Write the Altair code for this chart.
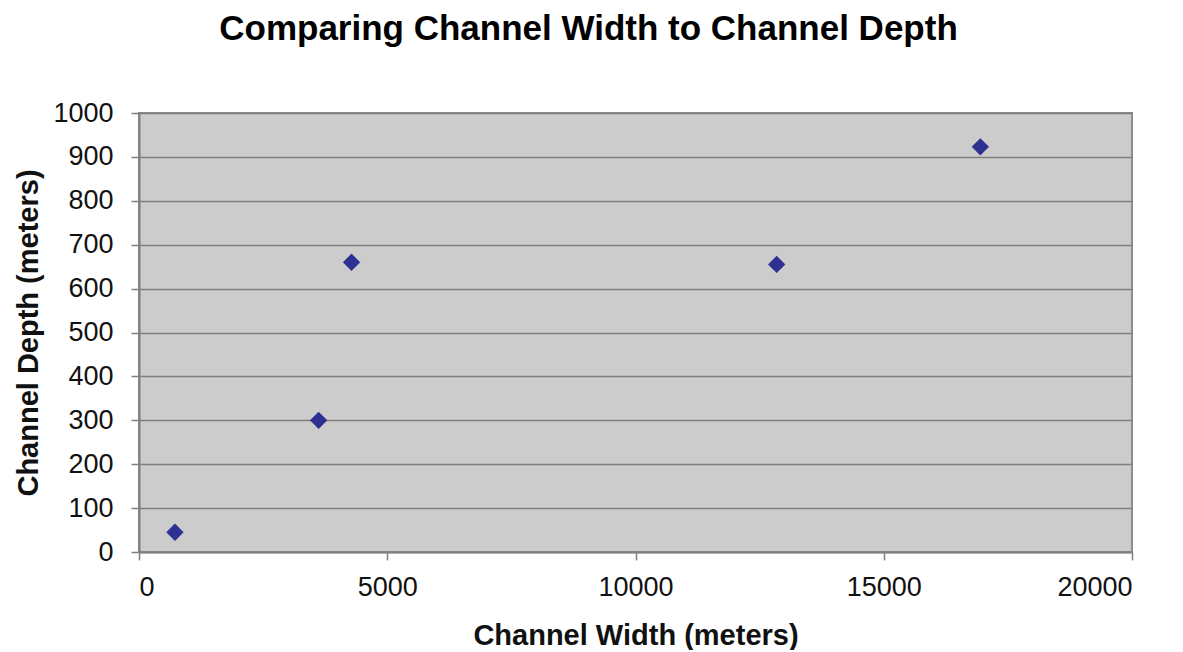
import altair as alt
import pandas as pd

width_m = [724, 3618, 4281, 12844, 16945]
depth_m = [45, 300, 660, 655, 923]

df = pd.DataFrame({"width": width_m, "depth": depth_m})

FONT = "Liberation Sans"

chart = alt.Chart(df).mark_point(
    shape="diamond", filled=True, size=300, color="#2e3192", opacity=1
).encode(
    x=alt.X("width:Q", title="Channel Width (meters)",
            scale=alt.Scale(domain=[0, 20000], nice=False),
            axis=alt.Axis(values=[0, 5000, 10000, 15000, 20000], grid=False,
                          labelFontSize=27, titleFontSize=29, labelPadding=14,
                          titlePadding=21, tickSize=8, format="d")),
    y=alt.Y("depth:Q", title="Channel Depth (meters)",
            scale=alt.Scale(domain=[0, 1000], nice=False),
            axis=alt.Axis(values=list(range(0, 1001, 100)), grid=True,
                          labelFontSize=27, titleFontSize=29, labelPadding=18,
                          titlePadding=9, tickSize=8, format="d")),
).properties(
    width=993, height=439,
    title=alt.Title("Comparing Channel Width to Channel Depth", fontSize=35,
                    font=FONT, fontWeight="bold", color="#000000", dx=-47, offset=52),
    autosize=alt.AutoSizeParams(type="none"),
    padding={"left": 131, "top": 105, "right": 40, "bottom": 98},
).configure_view(
    fill="#cccccc", stroke="#8c8c8c", strokeWidth=2
).configure_axis(
    labelFont=FONT, titleFont=FONT, labelColor="#111111", titleColor="#111111",
    titleFontWeight="bold", domainColor="#808080", domainWidth=2,
    tickColor="#808080", tickWidth=1.5, gridColor="#7f7f7f", gridWidth=1.5,
)

chart.save("out.html", embed_options={"renderer": "svg", "actions": False})
